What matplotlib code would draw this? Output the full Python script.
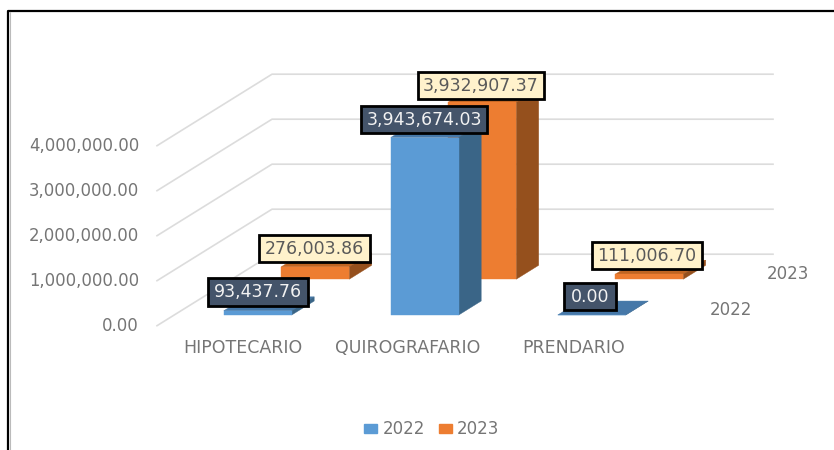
# 3D style bar chart, drawn with an oblique projection on a 2D axes
import matplotlib
matplotlib.use("Agg")
import matplotlib.pyplot as plt
from matplotlib.patches import Rectangle

categories = ["HIPOTECARIO", "QUIROGRAFARIO", "PRENDARIO"]
series_names = ["2022", "2023"]
values_2022 = [93437.76, 3943674.03, 0.00]
values_2023 = [276003.86, 3932907.37, 111006.70]
y_ticks = [0, 1000000, 2000000, 3000000, 4000000]

W, H = 834, 450
X0, Y0 = 157, 325.7      # front left corner of the floor, pixels
CAT_W = 167              # pixels per category
SER_DX, SER_DY = 57.5, -35.75  # pixels per series going back
PX_PER_UNIT = 45 / 1e6
BAR_HALF = 0.2036
DEPTH_A, DEPTH_B = 0.30, 0.69

fig = plt.figure(figsize=(W / 100, H / 100), dpi=100)
ax = fig.add_axes([0, 0, 1, 1])
ax.set_xlim(0, W)
ax.set_ylim(H, 0)
ax.axis("off")


def project(c, d, v):
    return X0 + CAT_W * c + SER_DX * d, Y0 + SER_DY * d - PX_PER_UNIT * v


def poly(points, color, z):
    xs, ys = zip(*[project(*p) for p in points])
    ax.fill(xs, ys, color=color, lw=0.3, zorder=z)


def bar(i, s, v, front, side, top, z):
    c0, c1 = i + 0.5 - BAR_HALF, i + 0.5 + BAR_HALF
    d0, d1 = s + DEPTH_A, s + DEPTH_B
    poly([(c0, d0, v), (c1, d0, v), (c1, d1, v), (c0, d1, v)], top, z)
    poly([(c1, d0, 0), (c1, d1, 0), (c1, d1, v), (c1, d0, v)], side, z)
    poly([(c0, d0, 0), (c1, d0, 0), (c1, d0, v), (c0, d0, v)], front, z)


def label(box, text, fill, color):
    x0, y0, x1, y1 = box
    ax.add_patch(Rectangle((x0, y0), x1 - x0, y1 - y0, fc=fill, ec="black", lw=2, zorder=6))
    ax.text((x0 + x1) / 2, (y0 + y1) / 2 + 0.5, text, ha="center", va="center", fontsize=12.5,
            color=color, zorder=7)


# chart border
ax.plot([8, 8, W], [H, 11, 11], color="black", lw=1.6, zorder=1)
ax.plot([9.6, 9.6], [12, H], color="#bbbbbb", lw=0.8, zorder=1)

# gridlines, side wall and back wall
for t in y_ticks:
    xa, ya = project(0, 0, t)
    xb, yb = project(0, 2, t)
    xc, yc = project(3, 2, t)
    ax.plot([xa, xb, xc], [ya, yb, yc], color="#DCDCDC", lw=1.2, zorder=2)
    ax.text(139, ya, f"{t:,.2f}", ha="right", va="center", fontsize=11.9, color="#757575")

for i in range(len(categories)):
    bar(i, 1, values_2023[i], "#ED7D31", "#95501D", "#BF6522", 3)
for i in range(len(categories)):
    bar(i, 0, values_2022[i], "#5B9BD5", "#3A6587", "#4678A8", 4)

# data labels
dark_boxes = [(208, 278, 308, 305.5), (361, 106, 487, 133), (564, 283, 616, 310)]
light_boxes = [(259, 235, 370, 262), (418, 72, 544, 99), (592, 242, 702, 269)]
for i in range(len(categories)):
    label(dark_boxes[i], f"{values_2022[i]:,.2f}", "#44546A", "#F2F2F2")
    label(light_boxes[i], f"{values_2023[i]:,.2f}", "#FFF2CC", "#595959")

# category and series axis labels
for name, x in zip(categories, [242.5, 407.5, 573.5]):
    ax.text(x, 348, name, ha="center", va="center", fontsize=12.5, color="#757575")
ax.text(731, 310, series_names[0], ha="center", va="center", fontsize=12, color="#757575")
ax.text(788, 274, series_names[1], ha="center", va="center", fontsize=12, color="#757575")

# legend
ax.fill([364, 377, 377, 364], [424, 424, 433, 433], color="#5B9BD5")
ax.text(383, 429, series_names[0], ha="left", va="center", fontsize=12, color="#757575")
ax.fill([439, 452, 452, 439], [424, 424, 433, 433], color="#ED7D31")
ax.text(457, 429, series_names[1], ha="left", va="center", fontsize=12, color="#757575")

fig.savefig("out.png", dpi=100)
